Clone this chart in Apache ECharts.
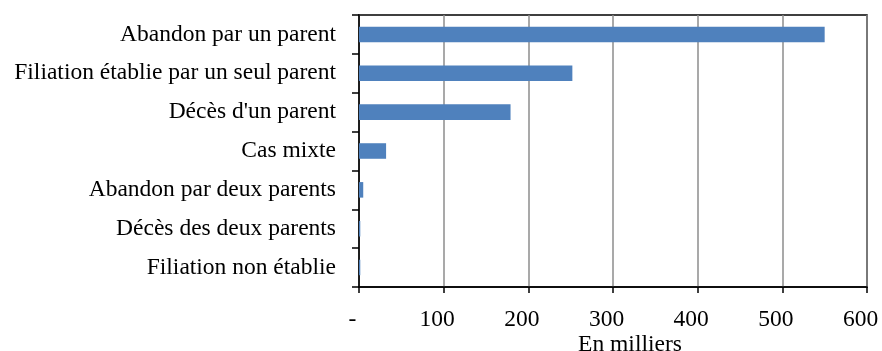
<!DOCTYPE html>
<html>
<head>
<meta charset="utf-8">
<script src="https://cdn.jsdelivr.net/npm/echarts@6/dist/echarts.min.js"></script>
<style>
html, body { margin: 0; padding: 0; background: #fff; }
#chart { width: 882px; height: 351px; }
</style>
</head>
<body>
<div id="chart"></div>
<script>
const categories = [
    'Abandon par un parent',
    'Filiation établie par un seul parent',
    'Décès d\'un parent',
    'Cas mixte',
    'Abandon par deux parents',
    'Décès des deux parents',
    'Filiation non établie',
];
const values = [550, 252, 179, 32, 5, 1.5, 1.5];
const xTicks = [0, 100, 200, 300, 400, 500, 600];

const font = '"Liberation Serif", "Times New Roman", serif';

const chart = echarts.init(document.getElementById('chart'));
chart.setOption({
    animation: false,
    grid: {
        left: 359,
        right: 15,
        top: 15,
        bottom: 64,
        outerBoundsMode: 'none',
        show: true,
        borderColor: '#000',
        borderWidth: 1.5,
    },
    xAxis: {
        type: 'value',
        min: xTicks[0],
        max: xTicks[xTicks.length - 1],
        interval: 100,
        name: 'En milliers',
        nameLocation: 'middle',
        nameGap: 46,
        nameMoveOverlap: false,
        nameTextStyle: {
            color: '#000',
            fontFamily: font,
            fontSize: 23.5,
            verticalAlign: 'top',
            padding: [0, 0, 0, 34],
        },
        axisLine: { show: true, lineStyle: { color: '#000', width: 1.5 } },
        axisTick: { show: true, length: 6, lineStyle: { color: '#000', width: 1.5 } },
        axisLabel: {
            color: '#000',
            fontFamily: font,
            fontSize: 23.5,
            margin: 21,
            padding: [0, 13, 0, 0],
            formatter: v => v === 0 ? '-' : String(v),
        },
        splitLine: { show: true, lineStyle: { color: '#8c8c8c', width: 1.5 } },
    },
    yAxis: {
        type: 'category',
        inverse: true,
        data: categories,
        axisLine: { show: true, lineStyle: { color: '#000', width: 1.5 } },
        axisTick: { show: true, length: 7, lineStyle: { color: '#000', width: 1.5 } },
        axisLabel: {
            color: '#000',
            fontFamily: font,
            fontSize: 23.5,
            margin: 23,
        },
    },
    series: [{
        type: 'bar',
        data: values,
        barWidth: '40%',
        itemStyle: { color: '#4F81BD' },
    }],
});
</script>
</body>
</html>
